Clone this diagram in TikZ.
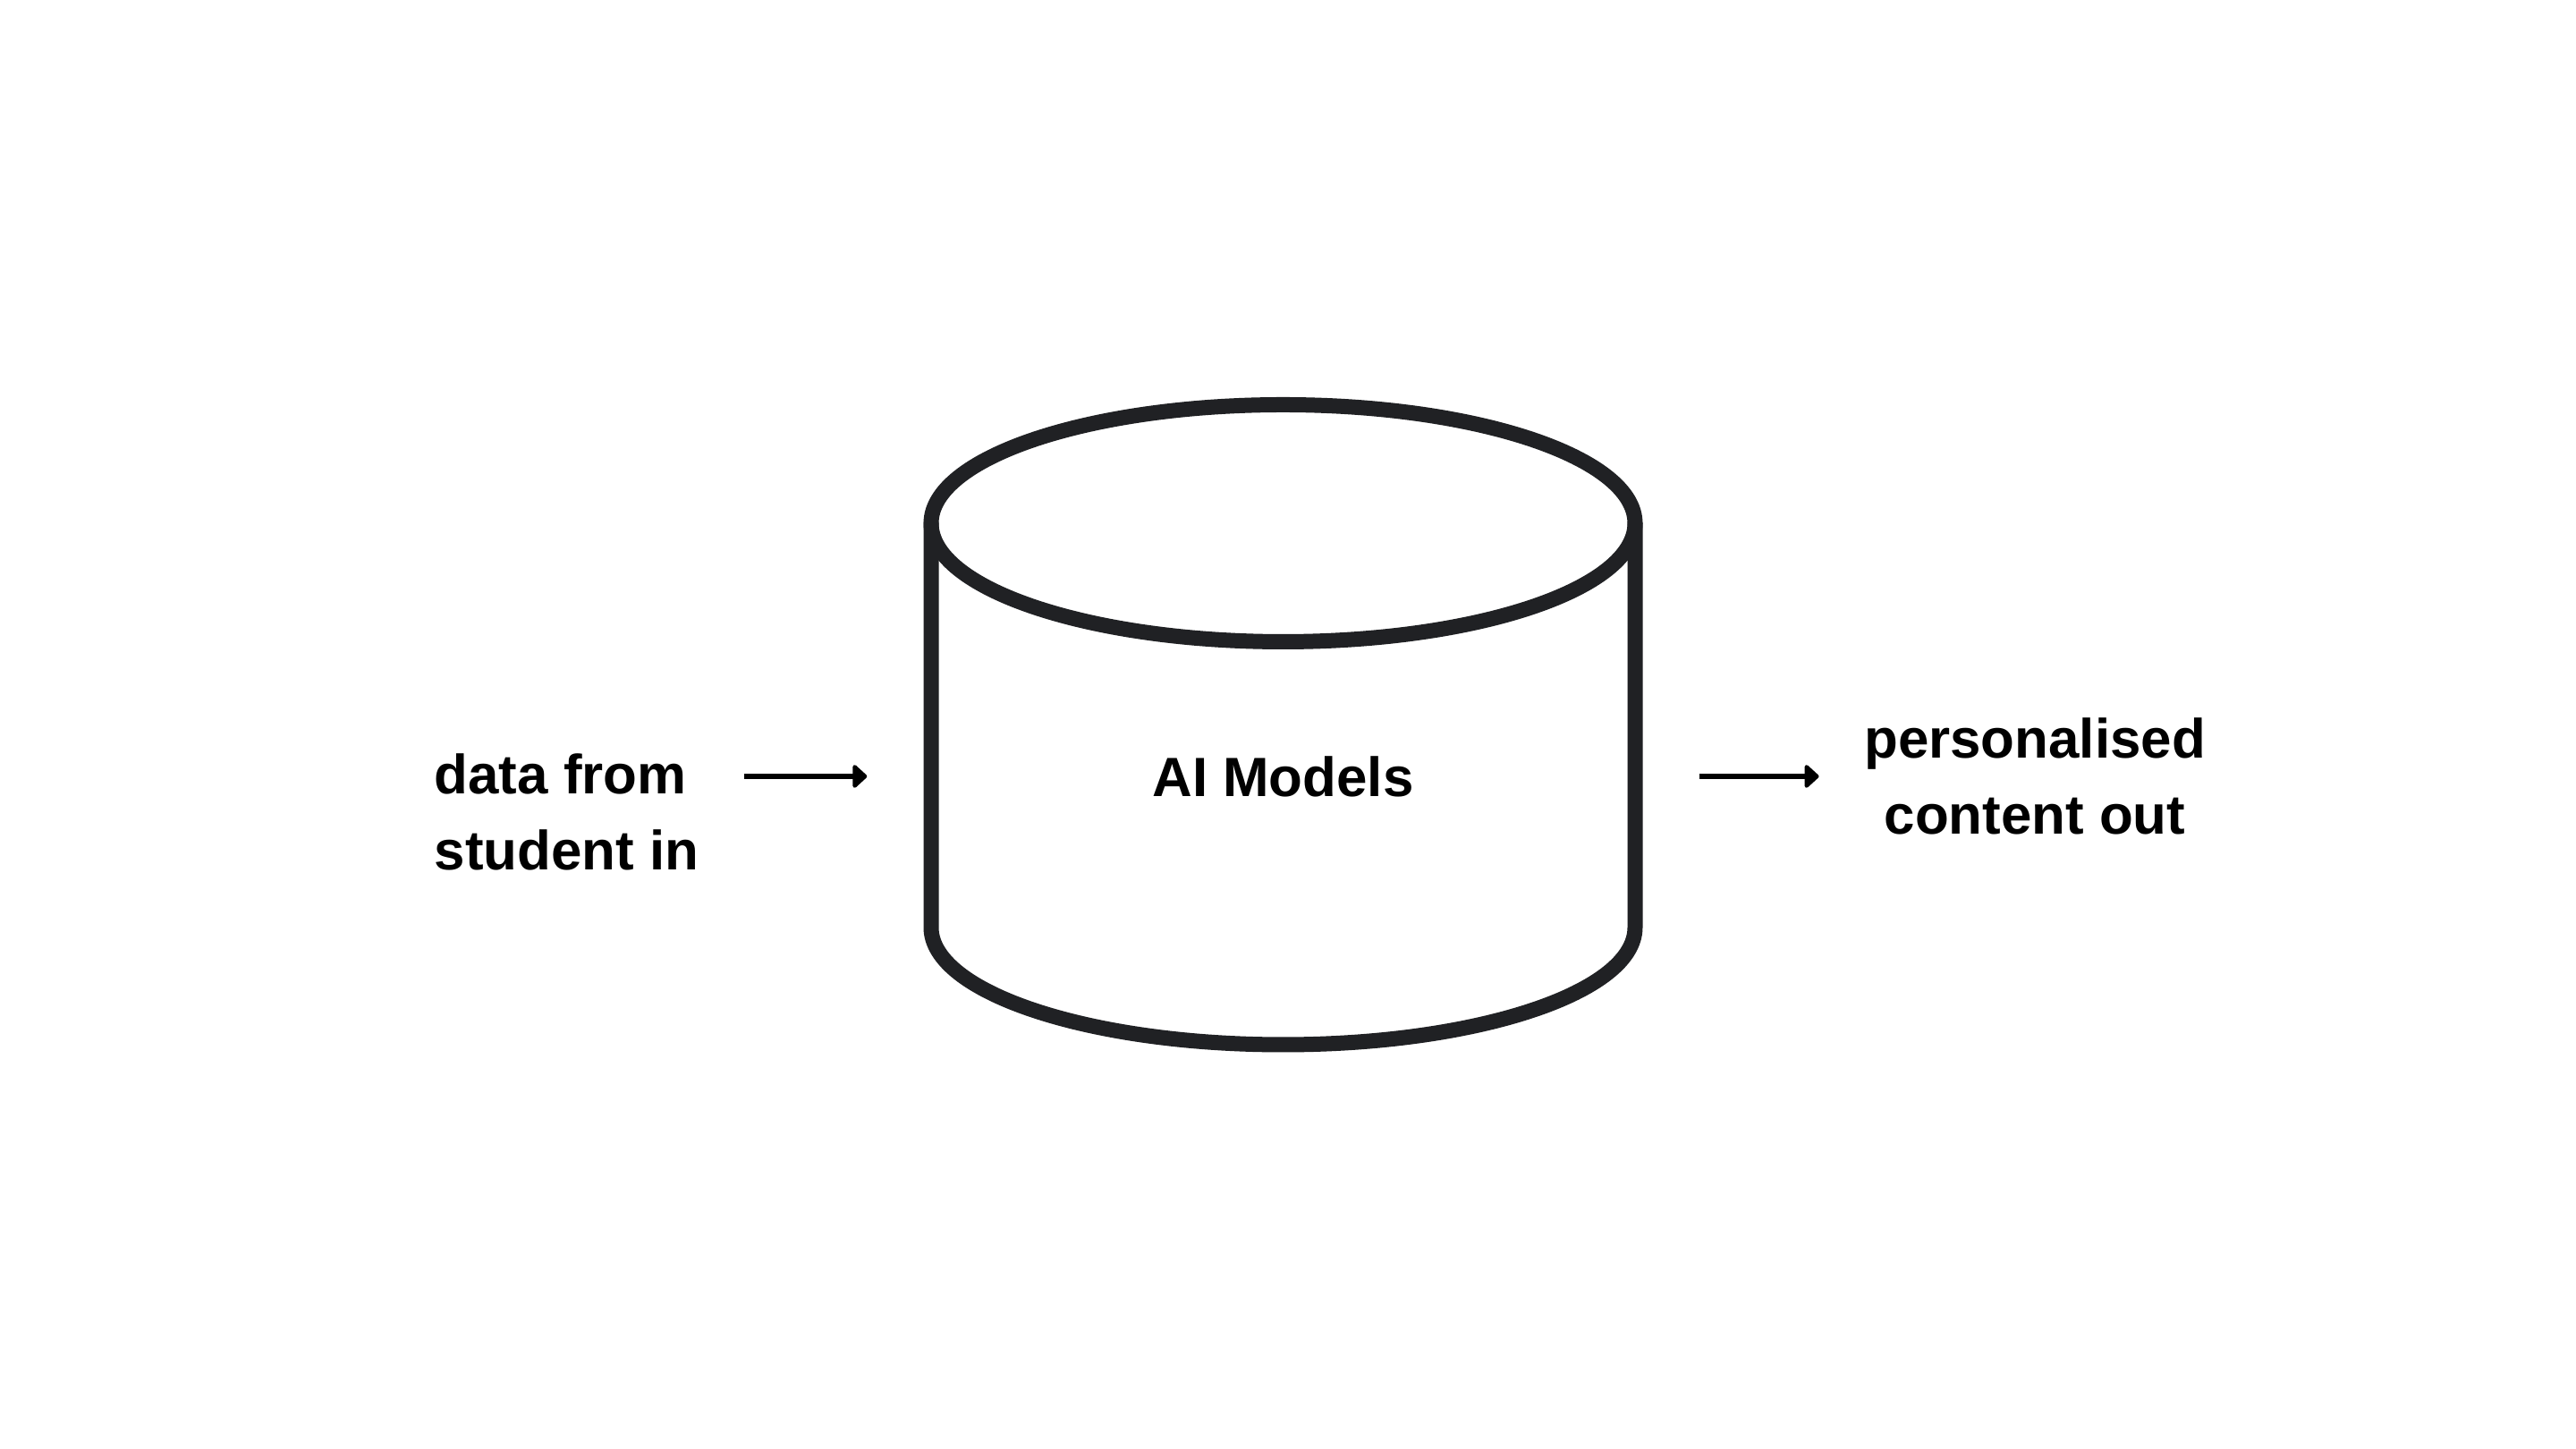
\documentclass[tikz,border=0pt]{standalone}
\usepackage{fontspec}
\setmainfont{Liberation Sans}
\usetikzlibrary{arrows.meta, positioning, calc}
\definecolor{ink}{HTML}{202124}

\begin{document}
\begin{tikzpicture}[label/.style = {font=\bfseries\fontsize{17.6}{24.2}\selectfont, inner sep=0pt},
  flow/.style = {line width=0.06cm, -{Triangle[length=0.17cm, width=0.3cm, round]}},
  drum/.style = {draw=ink, line width=0.17cm, line join=round, line cap=round}]
\fill[white] (0,0) rectangle (28.8,16.2);
\useasboundingbox (0,0) rectangle (28.8,16.2);

% cylinder
\coordinate (top) at (14.345,10.35);
\coordinate (bot) at (14.345,5.83);
\draw[drum] (top) ellipse [x radius=3.935, y radius=1.325];
\draw[drum] ($(top)+(-3.935,0)$) -- ($(bot)+(-3.935,0)$)
  arc [start angle=180, end angle=360, x radius=3.935, y radius=1.31]
  -- ($(top)+(3.935,0)$);

\node[label, minimum width=9.29cm] (model) at (14.345,7.52) {AI Models};
\node[label, align=left, anchor=west] (in) at (4.85,7.12) {data from\\student in};
\node[label, align=center] (out) at (22.75,7.52) {personalised\\content out};

\draw[flow, shorten <=0.5cm] (in.east |- model.west) -- (model.west);
\draw[flow, shorten >=0.5cm] (model.east) -- (out.west |- model.east);
\end{tikzpicture}
\end{document}
